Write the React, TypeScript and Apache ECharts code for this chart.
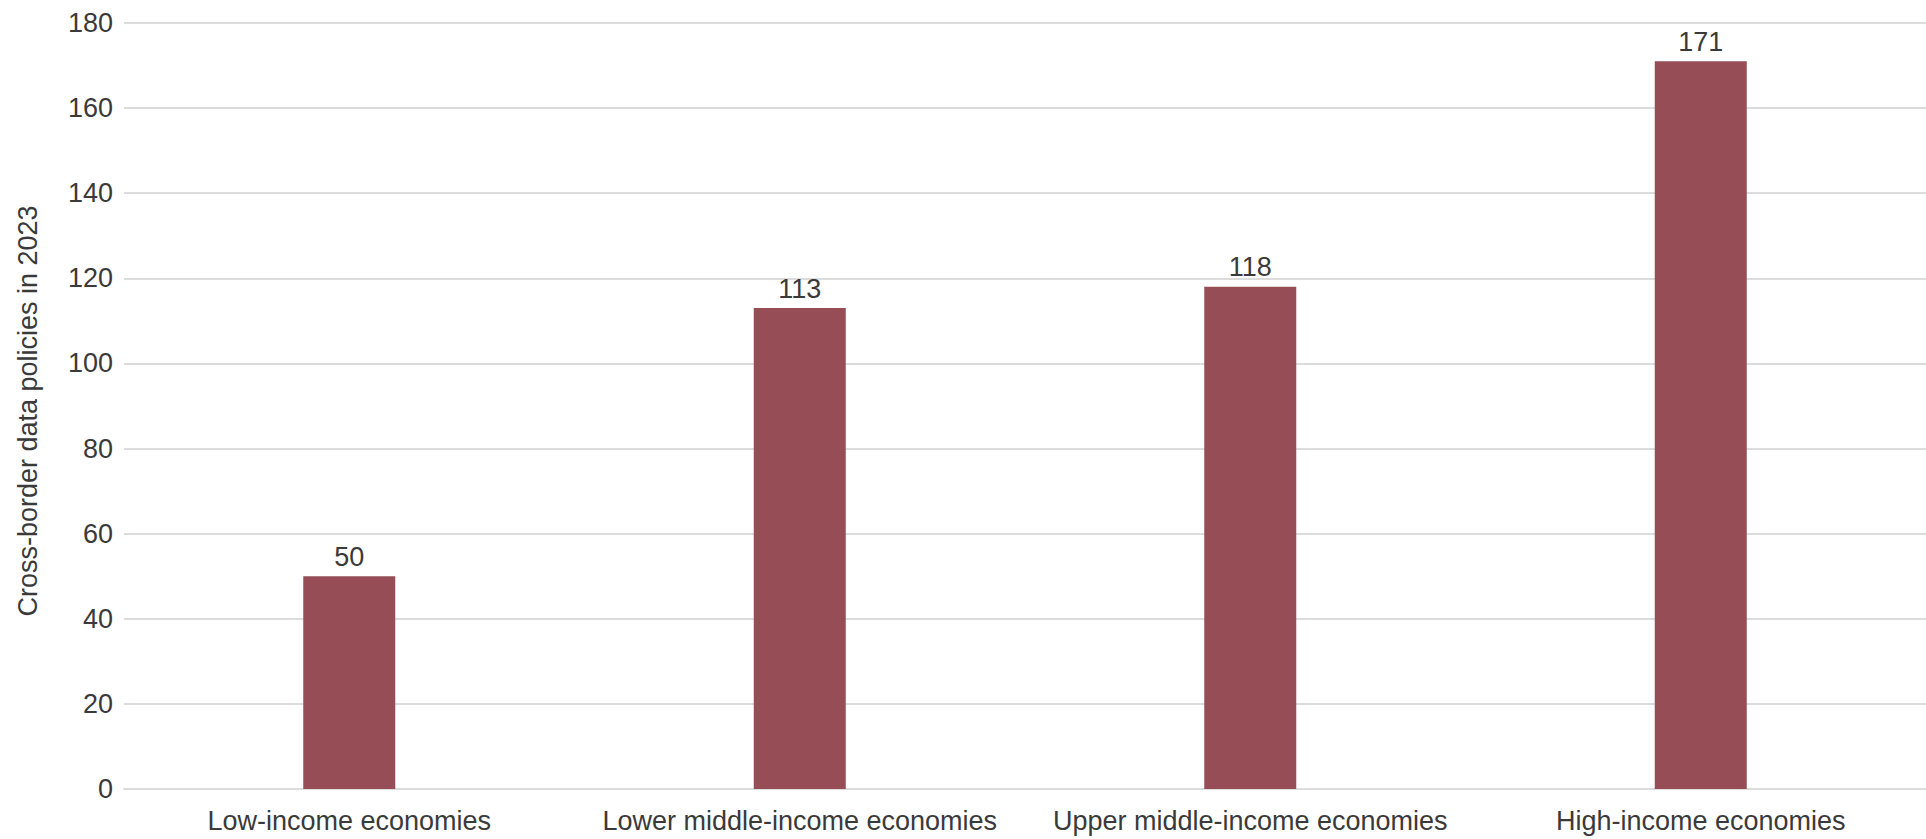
import React, { useEffect, useRef } from "react";
import * as echarts from "echarts";

const categories = [
  "Low-income economies",
  "Lower middle-income economies",
  "Upper middle-income economies",
  "High-income economies",
];
const policies = [50, 113, 118, 171];
const yTicks = { min: 0, max: 180, interval: 20 };
const yAxisTitle = "Cross-border data policies in 2023";

export default function App() {
  const ref = useRef<HTMLDivElement>(null);
  useEffect(() => {
    document.body.style.margin = "0";
    const chart = echarts.init(ref.current!, null, { renderer: "svg" });
    const font = "'Liberation Sans', Arial, Helvetica, sans-serif";
    chart.setOption({
      animation: false,
      backgroundColor: "#ffffff",
      grid: { left: 124, right: -2, top: 23, bottom: 50, containLabel: false },
      xAxis: {
        type: "category",
        data: categories,
        axisLine: { show: true, lineStyle: { color: "#dcdcdc", width: 2 } },
        axisTick: { show: false },
        axisLabel: { color: "#3a3a3a", fontSize: 27, fontFamily: font, margin: 18, interval: 0 },
      },
      yAxis: {
        type: "value",
        min: yTicks.min,
        max: yTicks.max,
        interval: yTicks.interval,
        axisLine: { show: false },
        axisTick: { show: false },
        splitLine: { lineStyle: { color: "#dcdcdc", width: 2 } },
        axisLabel: { color: "#3a3a3a", fontSize: 27, fontFamily: font, margin: 11 },
      },
      graphic: [
        {
          type: "text",
          x: 28,
          y: 411,
          rotation: Math.PI / 2,
          style: {
            text: yAxisTitle,
            fill: "#3a3a3a",
            font: `27px ${font}`,
            textAlign: "center",
            textVerticalAlign: "middle",
          },
        },
      ],
      series: [
        {
          type: "bar",
          data: policies,
          barWidth: 92,
          itemStyle: { color: "#964d55" },
          label: {
            show: true,
            position: "top",
            distance: 6,
            color: "#3a3a3a",
            fontSize: 27,
            fontFamily: font,
          },
        },
      ],
    });
    return () => chart.dispose();
  }, []);
  return <div ref={ref} style={{ width: 1926, height: 839 }} />;
}
